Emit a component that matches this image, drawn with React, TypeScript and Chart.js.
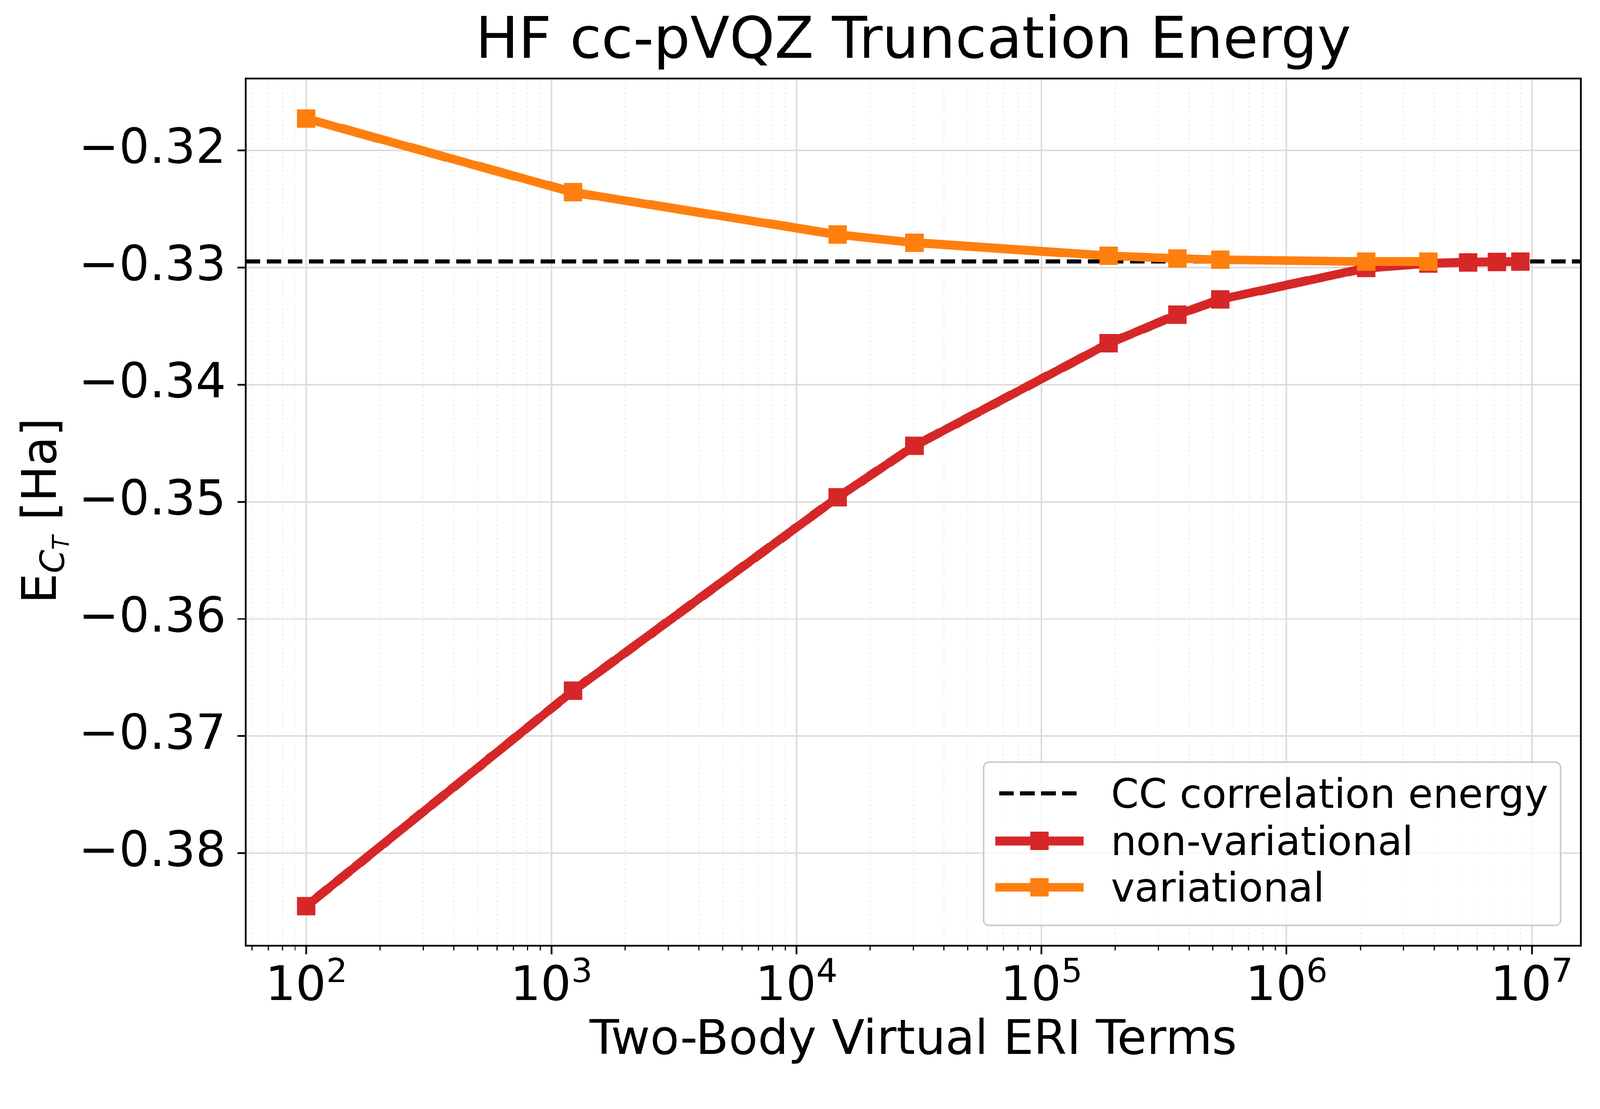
import { useEffect, useRef } from "react"
import { Chart, registerables } from "chart.js"

Chart.register(...registerables)

// Two-body virtual ERI terms kept at each truncation
const TERMS = [100, 1227, 14700, 30300, 188000, 358000, 537000, 2110000, 3780000, 5510000, 7210000, 8980000]
// truncated correlation energies [Ha]
const NON_VARIATIONAL = [-0.38451, -0.36612, -0.34961, -0.34521, -0.33646, -0.33401, -0.3327, -0.33003, -0.32963, -0.32954, -0.3295, -0.32947]
const VARIATIONAL = [-0.31727, -0.32356, -0.32717, -0.32786, -0.32898, -0.32921, -0.32931, -0.32947, -0.32947]
const CC_ENERGY = -0.32947

const X_RANGE = [56.6, 1.587e7]
const Y_RANGE = [-0.3879, -0.31384]
const X_MAJOR = [1e2, 1e3, 1e4, 1e5, 1e6, 1e7]
const Y_TICKS = [-0.38, -0.37, -0.36, -0.35, -0.34, -0.33, -0.32]

const LEGEND_LABELS = ["CC correlation energy", "non-variational", "variational"]

const RED = "#d62728"
const ORANGE = "#ff7f0e"
const FONT = "DejaVu Sans"
const W = 4180
const H = 2839

function logTicks() {
  const out: { value: number; major: boolean }[] = []
  const decades = [X_MAJOR[0] / 10, ...X_MAJOR]
  decades.forEach((d) => {
    for (let m = 1; m <= 9; m++) {
      const v = m * d
      if (v >= X_RANGE[0] && v <= X_RANGE[1]) out.push({ value: v, major: m === 1 })
    }
  })
  return out
}

const decorPlugin = {
  id: "decor",
  afterDatasetsDraw(chart: any) {
    const { ctx, chartArea: a, scales } = chart
    ctx.save()

    // minor tick marks on the log axis
    const xs = scales.x
    ctx.strokeStyle = "#000"
    ctx.lineWidth = 3
    xs.ticks.forEach((t: any) => {
      if (t.major) return
      const px = xs.getPixelForValue(t.value)
      ctx.beginPath()
      ctx.moveTo(px, a.bottom)
      ctx.lineTo(px, a.bottom + 12)
      ctx.stroke()
    })

    // x tick labels 10^n with a raised exponent
    ctx.fillStyle = "#000"
    ctx.textAlign = "left"
    ctx.textBaseline = "alphabetic"
    X_MAJOR.forEach((v) => {
      const px = xs.getPixelForValue(v)
      const exp = String(Math.round(Math.log10(v)))
      ctx.font = `125px "${FONT}"`
      const w1 = ctx.measureText("10").width
      ctx.font = `87.5px "${FONT}"`
      const w2 = ctx.measureText(exp).width
      const x0 = px - (w1 + w2) / 2
      ctx.font = `125px "${FONT}"`
      ctx.fillText("10", x0, a.bottom + 142)
      ctx.font = `87.5px "${FONT}"`
      ctx.fillText(exp, x0 + w1, a.bottom + 95)
    })

    // frame
    ctx.lineWidth = 4.5
    ctx.strokeRect(a.left, a.top, a.right - a.left, a.bottom - a.top)

    // legend
    const bx = a.right - 53 - 1507
    const by = a.bottom - 53 - 427
    ctx.beginPath()
    ctx.roundRect(bx, by, 1507, 427, 14)
    ctx.fillStyle = "rgba(255,255,255,0.8)"
    ctx.fill()
    ctx.strokeStyle = "#cccccc"
    ctx.lineWidth = 4
    ctx.stroke()

    const rows = [by + 82, by + 206, by + 327]
    const hx0 = bx + 30
    const hx1 = bx + 261
    // dashed handle
    ctx.setLineDash([38, 17])
    ctx.strokeStyle = "#000"
    ctx.lineWidth = 10.4
    ctx.beginPath()
    ctx.moveTo(bx + 40, rows[0])
    ctx.lineTo(bx + 244, rows[0])
    ctx.stroke()
    ctx.setLineDash([])
    ;[RED, ORANGE].forEach((c, i) => {
      const y = rows[i + 1]
      ctx.strokeStyle = c
      ctx.fillStyle = c
      ctx.lineWidth = 23
      ctx.beginPath()
      ctx.moveTo(hx0, y)
      ctx.lineTo(hx1, y)
      ctx.stroke()
      const mx = (hx0 + hx1) / 2
      ctx.fillRect(mx - 24, y - 24, 48, 48)
    })
    ctx.fillStyle = "#000"
    ctx.font = `105px "${FONT}"`
    LEGEND_LABELS.forEach((t, i) => ctx.fillText(t, bx + 332, rows[i] + 37))

    // y axis title E_{C_T} [Ha]
    const parts = [
      { t: "E", font: `125px "${FONT}"`, dy: 0 },
      { t: "C", font: `italic 87.5px "${FONT}"`, dy: 21 },
      { t: "T", font: `italic 61px "${FONT}"`, dy: 34 },
      { t: " [Ha]", font: `125px "${FONT}"`, dy: 0 },
    ]
    let total = 0
    const widths = parts.map((p) => {
      ctx.font = p.font
      const w = ctx.measureText(p.t).width
      total += w
      return w
    })
    ctx.translate(146, (a.top + a.bottom) / 2 - 4)
    ctx.rotate(-Math.PI / 2)
    let x = -total / 2
    parts.forEach((p, i) => {
      ctx.font = p.font
      ctx.fillText(p.t, x, p.dy)
      x += widths[i]
    })

    ctx.restore()
  },
}

export default function App() {
  const chartRef = useRef<HTMLCanvasElement>(null)
  const chartInstance = useRef<Chart | null>(null)

  // the layout is worked out on a 4180x2839 board; fit it to the real viewport
  const fit = Math.min(window.innerWidth / W, window.innerHeight / H)

  useEffect(() => {
    if (!chartRef.current) return
    if (chartInstance.current) chartInstance.current.destroy()
    const ctx = chartRef.current.getContext("2d")
    if (!ctx) return

    chartInstance.current = new Chart(ctx, {
      type: "line",
      data: {
        datasets: [
          {
            label: LEGEND_LABELS[0],
            data: [
              { x: X_RANGE[0], y: CC_ENERGY },
              { x: X_RANGE[1], y: CC_ENERGY },
            ],
            borderColor: "#000",
            borderWidth: 10.4,
            borderDash: [38, 17],
            pointRadius: 0,
            order: 3,
          },
          {
            label: LEGEND_LABELS[1],
            data: TERMS.map((x, i) => ({ x, y: NON_VARIATIONAL[i] })),
            borderColor: RED,
            backgroundColor: RED,
            borderWidth: 23,
            borderJoinStyle: "round",
            pointStyle: "rect",
            pointRadius: 34,
            pointBorderWidth: 0,
            pointBackgroundColor: RED,
            order: 2,
          },
          {
            label: LEGEND_LABELS[2],
            data: VARIATIONAL.map((y, i) => ({ x: TERMS[i], y })),
            borderColor: ORANGE,
            backgroundColor: ORANGE,
            borderWidth: 23,
            borderJoinStyle: "round",
            pointStyle: "rect",
            pointRadius: 34,
            pointBorderWidth: 0,
            pointBackgroundColor: ORANGE,
            order: 1,
          },
        ],
      },
      options: {
        animation: false,
        responsive: true,
        maintainAspectRatio: false,
        events: [],
        layout: { padding: { left: 0, right: 50, top: 0, bottom: 0 } },
        plugins: {
          legend: { display: false },
          tooltip: { enabled: false },
          title: {
            display: true,
            text: "HF cc-pVQZ Truncation Energy",
            fullSize: false,
            color: "#000",
            font: { family: FONT, size: 150, weight: "normal", lineHeight: 1 },
            padding: { top: 37, bottom: 18 },
          },
        },
        scales: {
          x: {
            type: "logarithmic",
            min: X_RANGE[0],
            max: X_RANGE[1],
            afterBuildTicks: (scale: any) => {
              scale.ticks = logTicks()
            },
            afterFit: (scale: any) => {
              scale.height = 368
            },
            ticks: {
              autoSkip: false,
              maxRotation: 0,
              // labels are drawn by the decor plugin with a raised exponent
              callback: () => "",
            },
            grid: {
              color: (c: any) => (c.tick && c.tick.major ? "#dcdcdc" : "#ebebeb"),
              lineWidth: (c: any) => (c.tick && c.tick.major ? 4 : 3),
              tickColor: (c: any) => (c.tick && c.tick.major ? "#000" : "rgba(0,0,0,0)"),
              tickWidth: 4.5,
              tickLength: 22,
            },
            border: {
              display: false,
              dash: (c: any) => (c.tick && !c.tick.major ? [4, 8] : []),
            },
            title: {
              display: true,
              text: "Two-Body Virtual ERI Terms",
              color: "#000",
              font: { family: FONT, size: 125, lineHeight: 1 },
              padding: { top: 0, bottom: 56 },
            },
          },
          y: {
            type: "linear",
            min: Y_RANGE[0],
            max: Y_RANGE[1],
            afterBuildTicks: (scale: any) => {
              scale.ticks = Y_TICKS.map((value) => ({ value }))
            },
            afterFit: (scale: any) => {
              scale.width = 642
            },
            ticks: {
              color: "#000",
              padding: 29,
              font: { family: FONT, size: 126, lineHeight: 1 },
              callback: (value: any) => {
                const v = Number(value)
                return (v < 0 ? "\u2212" : "") + Math.abs(v).toFixed(2)
              },
            },
            grid: {
              color: "#dcdcdc",
              lineWidth: 4,
              tickColor: "#000",
              tickWidth: 4.5,
              tickLength: 22,
            },
            border: { display: false },
          },
        },
      },
      plugins: [decorPlugin],
    })

    return () => {
      if (chartInstance.current) {
        chartInstance.current.destroy()
        chartInstance.current = null
      }
    }
  }, [])

  return (
    <div
      style={{
        position: "fixed",
        left: 0,
        top: 0,
        width: W,
        height: H,
        background: "#fff",
        transform: `scale(${fit})`,
        transformOrigin: "0 0",
      }}
    >
      <canvas ref={chartRef} />
    </div>
  )
}
